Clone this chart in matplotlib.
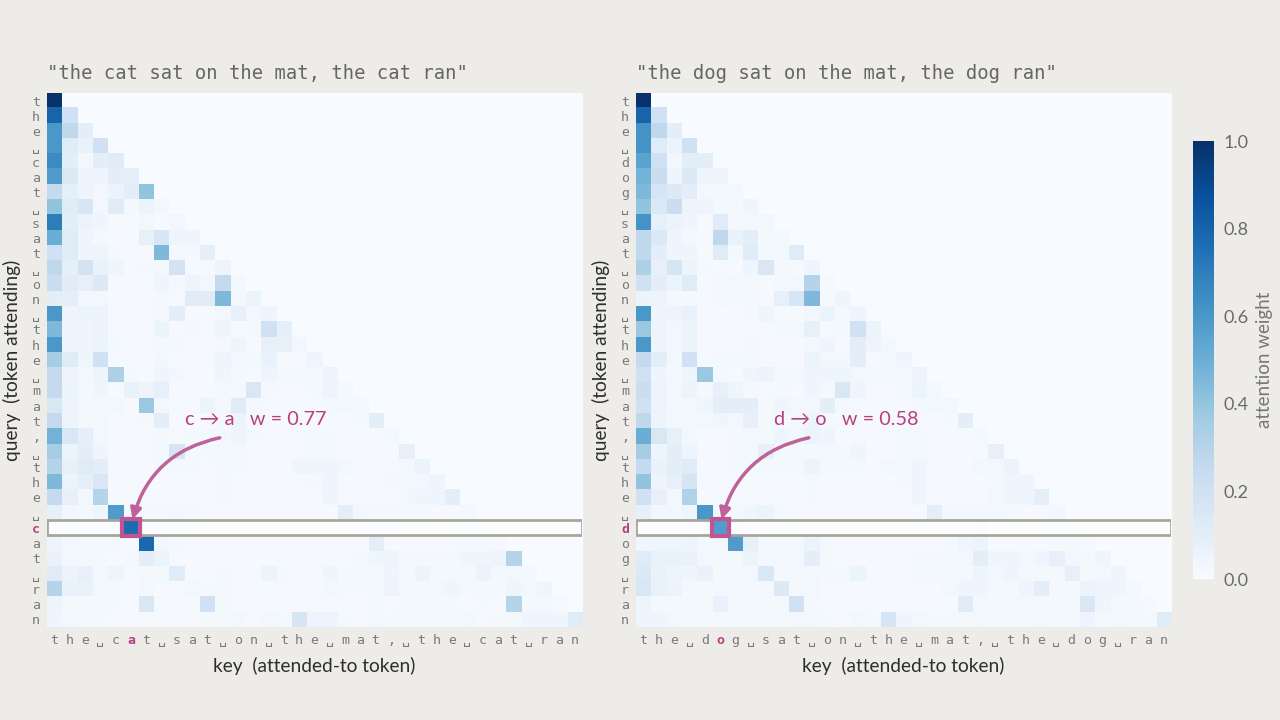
import numpy as np
import matplotlib.pyplot as plt
from matplotlib.patches import Rectangle

plt.rcParams['font.family'] = ['Lato', 'DejaVu Sans']

cat_text = "the cat sat on the mat, the cat ran"
dog_text = "the dog sat on the mat, the dog ran"
query_idx = 28   # second "c" / "d"
key_idx = 5      # token after the first "c" / "d"

# attention weights in percent, one list per query row (only keys <= query)
cat_rows = [
    [100],
    [80, 20],
    [60, 27, 10],
    [60, 12, 7, 20],
    [65, 10, 3, 10, 12],
    [58, 14, 4, 5, 10, 9],
    [25, 9, 5, 3, 6, 10, 40],
    [40, 12, 16, 3, 12, 2, 6, 3],
    [70, 10, 6, 4, 1, 1, 3, 1, 3],
    [50, 12, 4, 2, 1, 1, 8, 16, 5, 4],
    [20, 12, 4, 5, 2, 1, 1, 45, 2, 2, 9],
    [27, 9, 18, 7, 4, 1, 2, 3, 18, 1, 1, 5],
    [22, 11, 8, 13, 1, 1, 1, 4, 2, 5, 3, 25, 2],
    [10, 9, 3, 3, 1, 1, 1, 2, 1, 11, 11, 45, 3, 6],
    [60, 5, 6, 6, 1, 1, 1, 2, 10, 1, 1, 3, 8, 3, 4],
    [45, 5, 4, 6, 1, 1, 1, 6, 1, 2, 1, 5, 1, 2, 20, 9],
    [60, 5, 4, 6, 2, 1, 1, 2, 3, 1, 1, 2, 5, 1, 8, 8, 3],
    [35, 12, 4, 20, 1, 1, 1, 3, 1, 1, 1, 5, 3, 2, 7, 1, 1, 4],
    [25, 5, 2, 5, 33, 2, 1, 4, 3, 1, 1, 4, 2, 1, 4, 2, 2, 2, 5],
    [25, 6, 2, 4, 1, 7, 5, 8, 1, 1, 1, 3, 2, 15, 2, 1, 1, 2, 5, 2],
    [15, 5, 2, 2, 3, 1, 38, 3, 1, 1, 6, 2, 12, 2, 1, 1, 1, 1, 2, 3, 2],
    [25, 5, 2, 3, 1, 1, 2, 10, 1, 1, 1, 2, 6, 1, 1, 1, 1, 1, 1, 1, 2, 10],
    [48, 15, 9, 3, 1, 1, 1, 2, 1, 2, 2, 3, 5, 2, 1, 1, 1, 2, 2, 1, 1, 1, 2],
    [35, 6, 10, 4, 1, 1, 1, 2, 17, 2, 2, 3, 2, 1, 1, 1, 1, 2, 2, 1, 1, 1, 1, 8],
    [30, 8, 12, 10, 1, 1, 1, 2, 2, 2, 1, 3, 2, 1, 1, 1, 4, 4, 4, 3, 1, 1, 1, 3, 6],
    [45, 6, 9, 15, 1, 1, 1, 1, 1, 1, 1, 2, 1, 1, 1, 1, 1, 2, 4, 1, 1, 1, 2, 3, 3, 4],
    [25, 8, 3, 30, 1, 1, 1, 1, 1, 1, 1, 2, 1, 1, 1, 1, 1, 1, 4, 1, 1, 1, 1, 3, 4, 4, 10],
    [8, 3, 2, 4, 58, 2, 2, 2, 3, 2, 1, 1, 1, 1, 1, 1, 1, 1, 1, 10, 3, 2, 2, 2, 2, 1, 1, 2],
    [4, 2, 2, 2, 2, 77, 4, 2, 1, 1, 1, 1, 1, 1, 1, 1, 1, 1, 1, 1, 3, 3, 3, 1, 1, 1, 1, 2, 1],
    [5, 3, 2, 2, 2, 1, 78, 3, 2, 1, 1, 1, 1, 1, 1, 1, 1, 1, 1, 1, 1, 10, 1, 1, 1, 1, 1, 2, 2, 1],
    [7, 3, 2, 2, 1, 2, 10, 6, 1, 1, 1, 1, 1, 1, 1, 1, 1, 1, 1, 1, 3, 4, 5, 2, 2, 2, 2, 4, 4, 5, 30],
    [12, 6, 8, 3, 5, 1, 2, 2, 12, 1, 1, 2, 1, 1, 6, 2, 1, 1, 4, 2, 2, 3, 4, 2, 6, 2, 2, 2, 6, 2, 3, 2],
    [30, 7, 7, 3, 2, 1, 3, 1, 1, 3, 2, 3, 1, 1, 1, 1, 1, 1, 3, 2, 2, 2, 5, 2, 2, 3, 4, 2, 2, 2, 4, 3, 4],
    [5, 2, 2, 2, 2, 1, 15, 1, 1, 1, 20, 2, 1, 1, 1, 1, 1, 1, 1, 1, 1, 2, 1, 2, 3, 2, 2, 1, 2, 1, 30, 2, 2, 1],
    [4, 3, 2, 2, 1, 1, 1, 1, 1, 1, 2, 2, 3, 1, 3, 2, 17, 5, 5, 2, 1, 3, 2, 2, 2, 2, 2, 3, 1, 2, 2, 4, 4, 4, 12],
]

dog_rows = [
    [100],
    [80, 20],
    [62, 27, 10],
    [62, 12, 6, 20],
    [55, 20, 3, 10, 10],
    [48, 22, 4, 14, 5, 5],
    [45, 17, 13, 10, 2, 2, 3],
    [40, 14, 22, 5, 5, 2, 2, 4],
    [62, 8, 6, 4, 1, 12, 3, 3, 3],
    [27, 14, 4, 2, 1, 27, 7, 10, 2, 2],
    [27, 10, 4, 4, 1, 12, 2, 12, 2, 3, 12],
    [33, 8, 17, 6, 2, 1, 1, 4, 15, 2, 1, 4],
    [20, 10, 6, 12, 1, 2, 3, 2, 1, 3, 3, 30, 1],
    [6, 5, 2, 2, 1, 3, 2, 2, 1, 8, 16, 45, 1, 4],
    [60, 5, 5, 7, 1, 1, 1, 2, 5, 1, 1, 3, 6, 2, 4],
    [38, 5, 3, 6, 1, 1, 1, 1, 1, 2, 2, 8, 1, 2, 20, 6],
    [60, 5, 3, 6, 1, 1, 1, 2, 1, 1, 1, 3, 4, 1, 10, 5, 3],
    [25, 10, 3, 20, 1, 2, 2, 2, 1, 1, 1, 6, 3, 3, 10, 1, 2, 4],
    [20, 4, 2, 4, 38, 2, 1, 4, 6, 2, 2, 4, 4, 4, 3, 2, 2, 2, 5],
    [22, 5, 2, 6, 2, 8, 4, 2, 1, 2, 1, 4, 2, 15, 4, 1, 1, 2, 6, 2],
    [20, 5, 2, 3, 4, 10, 10, 10, 2, 4, 3, 3, 10, 2, 1, 1, 1, 1, 2, 3, 3],
    [27, 5, 3, 3, 3, 4, 3, 8, 2, 2, 2, 5, 2, 1, 1, 1, 1, 1, 1, 1, 2, 10],
    [50, 15, 8, 3, 1, 1, 2, 3, 2, 4, 3, 6, 4, 1, 1, 1, 1, 2, 2, 1, 1, 1, 2],
    [35, 5, 10, 5, 1, 1, 2, 2, 8, 2, 2, 2, 2, 2, 4, 1, 1, 2, 2, 1, 1, 1, 1, 8],
    [25, 7, 10, 12, 1, 1, 2, 2, 2, 2, 2, 6, 2, 2, 2, 1, 3, 3, 4, 1, 1, 1, 3, 3, 6],
    [40, 5, 8, 17, 1, 1, 1, 1, 1, 1, 1, 2, 1, 1, 1, 1, 1, 3, 4, 1, 1, 1, 1, 2, 4, 4],
    [20, 8, 3, 32, 1, 1, 1, 1, 1, 1, 1, 2, 1, 1, 1, 1, 1, 1, 4, 1, 1, 1, 1, 3, 4, 4, 9],
    [8, 3, 3, 4, 60, 3, 3, 4, 6, 2, 1, 1, 1, 1, 1, 1, 1, 1, 1, 10, 3, 3, 3, 3, 2, 1, 1, 3],
    [4, 2, 2, 2, 2, 58, 6, 2, 2, 1, 1, 1, 1, 1, 1, 1, 1, 1, 1, 1, 3, 3, 5, 1, 1, 1, 1, 2, 1],
    [4, 4, 4, 5, 2, 3, 58, 8, 2, 2, 2, 6, 2, 1, 1, 1, 1, 1, 1, 1, 2, 4, 6, 1, 1, 1, 1, 2, 2, 1],
    [12, 7, 7, 7, 3, 2, 2, 6, 3, 3, 3, 10, 2, 1, 1, 1, 1, 1, 3, 2, 2, 3, 10, 4, 4, 3, 4, 8, 3, 2, 4],
    [14, 7, 5, 4, 7, 2, 2, 3, 15, 2, 2, 3, 2, 2, 6, 1, 1, 1, 2, 2, 2, 2, 5, 3, 4, 2, 2, 2, 8, 2, 2, 4],
    [15, 7, 6, 2, 2, 3, 3, 3, 2, 13, 2, 3, 1, 1, 1, 1, 1, 1, 1, 1, 3, 4, 4, 2, 2, 4, 10, 2, 2, 6, 4, 4, 2],
    [5, 2, 2, 2, 2, 7, 2, 2, 2, 2, 20, 2, 1, 1, 1, 1, 1, 1, 1, 1, 1, 12, 2, 2, 3, 3, 2, 2, 2, 15, 4, 2, 2, 1],
    [4, 4, 3, 2, 2, 2, 2, 2, 2, 2, 3, 3, 2, 1, 3, 2, 17, 4, 3, 2, 2, 2, 3, 2, 2, 2, 3, 2, 2, 5, 2, 3, 2, 2, 12],
]

BG = '#edece8'
PINK = '#b83f7d'
ARROW = '#c0629a'
GRID_GRAY = '#a9a69e'


def to_matrix(rows):
    n = len(rows)
    m = np.zeros((n, n))
    for i, r in enumerate(rows):
        m[i, :len(r)] = np.array(r) / 100.0
    return m


def draw_panel(ax, text, rows):
    m = to_matrix(rows)
    n = len(text)
    im = ax.imshow(m, cmap='Blues', vmin=0, vmax=1, aspect='auto',
                   interpolation='nearest')
    labels = ['\u2423' if ch == ' ' else ch for ch in text]
    ax.set_xticks(range(n))
    ax.set_yticks(range(n))
    ax.set_xticklabels(labels, family=['DejaVu Sans Mono', 'DejaVu Sans'],
                       fontsize=9.5, color='#7a7a7a')
    ax.set_yticklabels(labels, family=['DejaVu Sans Mono', 'DejaVu Sans'],
                       fontsize=9.5, color='#7a7a7a')
    ax.tick_params(axis='x', length=0, pad=5)
    ax.tick_params(axis='y', length=0, pad=5)
    for s in ax.spines.values():
        s.set_visible(False)
    for lab in (ax.get_xticklabels()[key_idx], ax.get_yticklabels()[query_idx]):
        lab.set_color(PINK)
        lab.set_fontweight('bold')

    ax.set_title('"' + text + '"', loc='left', fontsize=13.6, color='#666666',
                 family='DejaVu Sans Mono', pad=10)
    ax.set_xlabel('key  (attended-to token)', fontsize=13.8, color='#2e2e2e', labelpad=7)
    ax.set_ylabel('query  (token attending)', fontsize=13.8, color='#2e2e2e', labelpad=8)

    # highlighted query row
    ax.add_patch(Rectangle((-0.5, query_idx - 0.5), n, 1, facecolor=(1, 1, 1, 0.7),
                           edgecolor=GRID_GRAY, linewidth=2, zorder=3))
    w = m[query_idx, key_idx]
    ax.add_patch(Rectangle((key_idx - 0.56, query_idx - 0.56), 1.12, 1.12,
                           facecolor=plt.cm.Blues(w), edgecolor='#c0558f',
                           linewidth=3, zorder=4))

    q = text[query_idx]
    k = text[key_idx]
    ax.text(8.5, 20.9, q + ' \u2192 ' + k + '   w = %.2f' % w, color=PINK,
            fontsize=14.3, ha='left', va='center', zorder=5)
    ax.annotate('', xy=(key_idx + 0.1, query_idx - 0.55), xytext=(10.8, 22.1),
                arrowprops=dict(arrowstyle='-|>', color=ARROW, lw=2.5,
                                mutation_scale=16, shrinkA=0, shrinkB=0,
                                connectionstyle='arc3,rad=0.3'),
                zorder=5)
    ax.set_xlim(-0.5, n - 0.5)
    ax.set_ylim(n - 0.5, -0.5)
    return im


fig = plt.figure(figsize=(12.8, 7.2), dpi=100, facecolor=BG)
ax1 = fig.add_axes([0.0367, 0.1292, 0.418, 0.7417])
ax2 = fig.add_axes([0.4969, 0.1292, 0.418, 0.7417])
im = draw_panel(ax1, cat_text, cat_rows)
draw_panel(ax2, dog_text, dog_rows)

cax = fig.add_axes([0.932, 0.1958, 0.0164, 0.6083])
cb = fig.colorbar(im, cax=cax)
cb.outline.set_visible(False)
cb.set_ticks([0, 0.2, 0.4, 0.6, 0.8, 1.0])
cb.ax.tick_params(length=0, pad=7, labelsize=13, labelcolor='#6b6b6b')
cb.set_label('attention weight', fontsize=13.5, color='#777777', labelpad=5)

fig.savefig('out.png', dpi=100, facecolor=BG)
